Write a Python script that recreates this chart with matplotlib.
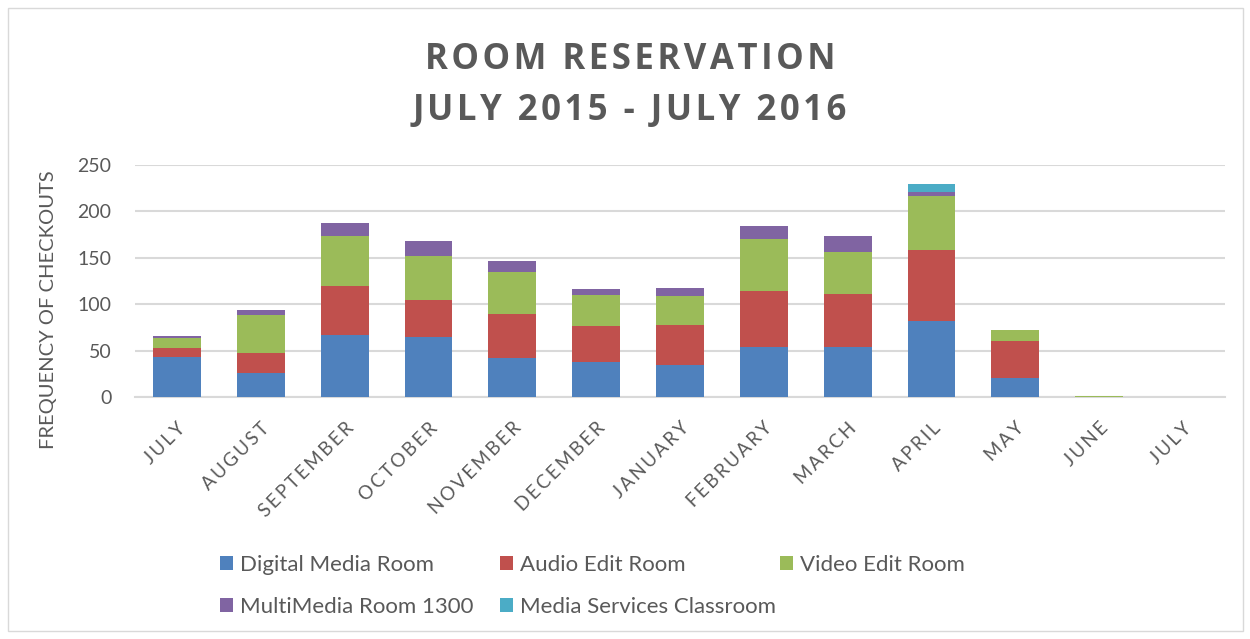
import matplotlib.pyplot as plt
import numpy as np
from matplotlib.patches import Rectangle

plt.rcParams['font.family'] = ['Lato', 'DejaVu Sans']

# donnees
months = ["JULY", "AUGUST", "SEPTEMBER", "OCTOBER", "NOVEMBER", "DECEMBER",
          "JANUARY", "FEBRUARY", "MARCH", "APRIL", "MAY", "JUNE", "JULY"]
digital_media = [43, 26, 67, 65, 42, 38, 34, 54, 54, 82, 20, 0, 0]
audio_edit = [10, 21, 53, 39, 47, 38, 44, 60, 57, 76, 40, 0, 0]
video_edit = [11, 41, 53, 48, 46, 34, 31, 56, 45, 59, 12, 1, 0]
multimedia_1300 = [2, 6, 15, 16, 12, 6, 8, 14, 18, 4, 0, 0, 0]
media_classroom = [0, 0, 0, 0, 0, 0, 0, 0, 0, 9, 0, 0, 0]

series = [("Digital Media Room", digital_media, "#4F81BD"),
          ("Audio Edit Room", audio_edit, "#C0504D"),
          ("Video Edit Room", video_edit, "#9BBB59"),
          ("MultiMedia Room 1300", multimedia_1300, "#8064A2"),
          ("Media Services Classroom", media_classroom, "#4BACC6")]

grey = "#595959"


def spaced(s, sep="\u2009"):
    # espacement des lettres (comme dans Excel)
    return sep.join(s)


fig = plt.figure(figsize=(12.5, 6.39), dpi=100)
ax = fig.add_axes([0.108, 0.3787, 0.872, 0.3631])

x = np.arange(len(months))
bottom = np.zeros(len(months))
bars = []
for name, vals, col in series:
    vals = np.array(vals, dtype=float)
    b = ax.bar(x, vals, 0.57, bottom=bottom, color=col, label=name, zorder=3)
    bars.append(b)
    bottom += vals

ax.set_xlim(-0.5, len(months) - 0.5)
ax.set_ylim(0, 250)
ax.set_yticks([0, 50, 100, 150, 200, 250])
ax.grid(axis="y", color="#d9d9d9", linewidth=1.5, zorder=0)
for s in ["top", "right", "left"]:
    ax.spines[s].set_visible(False)
ax.spines["bottom"].set_color("#d9d9d9")
ax.spines["bottom"].set_linewidth(1.5)
ax.tick_params(length=0, colors=grey, labelsize=14)
ax.tick_params(axis="y", pad=17)
ax.tick_params(axis="x", pad=16)
ax.set_xticks(x)
ax.set_xticklabels([spaced(m) for m in months], rotation=45, ha="right",
                   rotation_mode="anchor", fontsize=13.5)
ax.set_ylabel("FREQUENCY OF CHECKOUTS", color=grey, fontsize=14.5)
ax.yaxis.set_label_coords(-0.0716, 0.375)

fig.text(0.504, 0.906, spaced("ROOM RESERVATION", "\u200a"), ha="center", va="center",
         fontsize=25, fontweight="bold", color=grey, family=["Open Sans", "DejaVu Sans"])
fig.text(0.504, 0.826, spaced("JULY 2015 - JULY 2016", "\u200a"), ha="center", va="center",
         fontsize=25, fontweight="bold", color=grey, family=["Open Sans", "DejaVu Sans"])

# legende en colonnes de largeur fixe (comme Excel)
columns = [[0, 3], [1, 4], [2]]
col_x = [0.176, 0.4, 0.624]
for idx, cx in zip(columns, col_x):
    leg = fig.legend([bars[i] for i in idx], [series[i][0] for i in idx],
                     loc="upper left", bbox_to_anchor=(cx, 0.132),
                     frameon=False, fontsize=16, labelcolor=grey,
                     handlelength=0.6, handleheight=0.6, handletextpad=0.3,
                     labelspacing=1.0, borderpad=0, borderaxespad=0)

# cadre du graphique
fig.patches.append(Rectangle((0.006, 0.012), 0.988, 0.976, transform=fig.transFigure,
                             fill=False, edgecolor="#d9d9d9", linewidth=1))

plt.savefig("out.png")
